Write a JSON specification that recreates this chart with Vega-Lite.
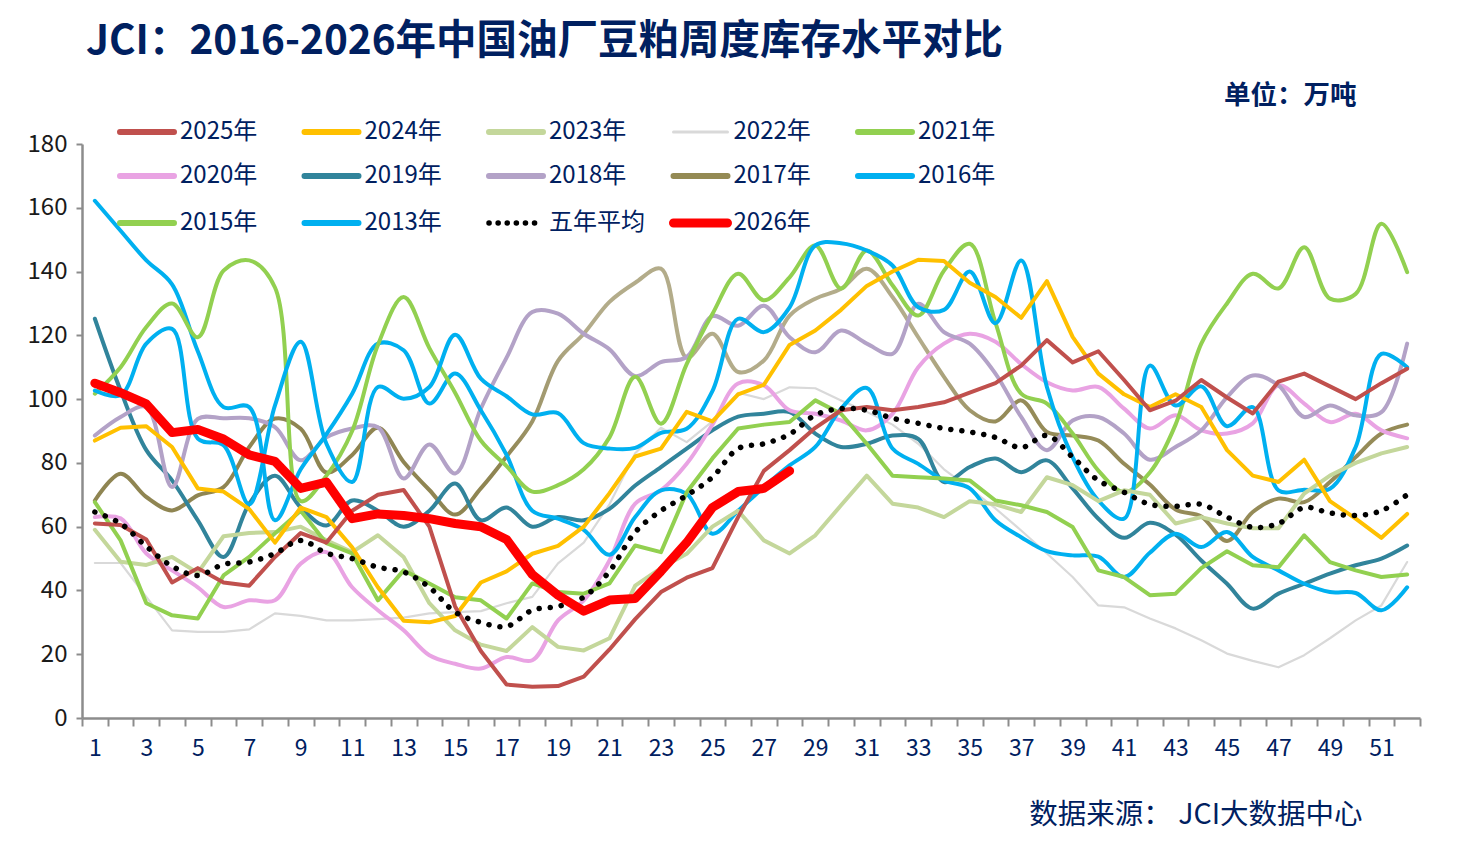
{
  "$schema": "https://vega.github.io/schema/vega-lite/v6.json",
  "width": 1338,
  "height": 574,
  "autosize": {"type": "none"},
  "padding": {"left": 82, "top": 144, "right": 38, "bottom": 137},
  "title": {
    "text": "JCI：2016-2026年中国油厂豆粕周度库存水平对比",
    "anchor": "start",
    "frame": "group",
    "fontSize": 40.5,
    "fontWeight": "bold",
    "color": "#002060",
    "dx": 4,
    "offset": 20
  },
  "datasets": {
    "inv": [
      {"s":"2022年","w":1,"v":48.6},{"s":"2022年","w":2,"v":48.6},{"s":"2022年","w":3,"v":38},{"s":"2022年","w":4,"v":27.5},{"s":"2022年","w":5,"v":27},{"s":"2022年","w":6,"v":27},{"s":"2022年","w":7,"v":27.8},{"s":"2022年","w":8,"v":32.8},{"s":"2022年","w":9,"v":32},{"s":"2022年","w":10,"v":30.6},{"s":"2022年","w":11,"v":30.6},{"s":"2022年","w":12,"v":31},{"s":"2022年","w":13,"v":31.5},{"s":"2022年","w":14,"v":32.8},{"s":"2022年","w":15,"v":33.2},{"s":"2022年","w":16,"v":33.5},{"s":"2022年","w":17,"v":36},{"s":"2022年","w":18,"v":38},{"s":"2022年","w":19,"v":48.5},{"s":"2022年","w":20,"v":55},{"s":"2022年","w":21,"v":67},{"s":"2022年","w":22,"v":83},{"s":"2022年","w":23,"v":91},{"s":"2022年","w":24,"v":86.5},{"s":"2022年","w":25,"v":93},{"s":"2022年","w":26,"v":102},{"s":"2022年","w":27,"v":100},{"s":"2022年","w":28,"v":103.7},{"s":"2022年","w":29,"v":103.4},{"s":"2022年","w":30,"v":99.6},{"s":"2022年","w":31,"v":96},{"s":"2022年","w":32,"v":92},{"s":"2022年","w":33,"v":86},{"s":"2022年","w":34,"v":78},{"s":"2022年","w":35,"v":72},{"s":"2022年","w":36,"v":65.7},{"s":"2022年","w":37,"v":58.8},{"s":"2022年","w":38,"v":51.6},{"s":"2022年","w":39,"v":44.2},{"s":"2022年","w":40,"v":35.3},{"s":"2022年","w":41,"v":34.7},{"s":"2022年","w":42,"v":31.2},{"s":"2022年","w":43,"v":28.1},{"s":"2022年","w":44,"v":24.4},{"s":"2022年","w":45,"v":20.2},{"s":"2022年","w":46,"v":17.9},{"s":"2022年","w":47,"v":15.9},{"s":"2022年","w":48,"v":19.7},{"s":"2022年","w":49,"v":25},{"s":"2022年","w":50,"v":30.6},{"s":"2022年","w":51,"v":35.3},{"s":"2022年","w":52,"v":48.9},
      {"s":"2017年","w":1,"v":68.2},{"s":"2017年","w":2,"v":76.6},{"s":"2017年","w":3,"v":69.3},{"s":"2017年","w":4,"v":65.1},{"s":"2017年","w":5,"v":69.8},{"s":"2017年","w":6,"v":72.4},{"s":"2017年","w":7,"v":85},{"s":"2017年","w":8,"v":93.9},{"s":"2017年","w":9,"v":90.7},{"s":"2017年","w":10,"v":77},{"s":"2017年","w":11,"v":82.5},{"s":"2017年","w":12,"v":91},{"s":"2017年","w":13,"v":80.3},{"s":"2017年","w":14,"v":71.5},{"s":"2017年","w":15,"v":63.8},{"s":"2017年","w":16,"v":72},{"s":"2017年","w":17,"v":82},{"s":"2017年","w":18,"v":93},{"s":"2017年","w":19,"v":112},{"s":"2017年","w":20,"v":120.5},{"s":"2017年","w":21,"v":130.5},{"s":"2017年","w":22,"v":136.5},{"s":"2017年","w":23,"v":140.9},{"s":"2017年","w":24,"v":113},{"s":"2017年","w":25,"v":120.5},{"s":"2017年","w":26,"v":108.5},{"s":"2017年","w":27,"v":112.1},{"s":"2017年","w":28,"v":126.2},{"s":"2017年","w":29,"v":131.5},{"s":"2017年","w":30,"v":134.6},{"s":"2017年","w":31,"v":140.9},{"s":"2017年","w":32,"v":132},{"s":"2017年","w":33,"v":119.4},{"s":"2017年","w":34,"v":107},{"s":"2017年","w":35,"v":96.5},{"s":"2017年","w":36,"v":93},{"s":"2017年","w":37,"v":99.6},{"s":"2017年","w":38,"v":89.7},{"s":"2017年","w":39,"v":88.6},{"s":"2017年","w":40,"v":87},{"s":"2017年","w":41,"v":79.7},{"s":"2017年","w":42,"v":73.2},{"s":"2017年","w":43,"v":65.4},{"s":"2017年","w":44,"v":63.2},{"s":"2017年","w":45,"v":55.5},{"s":"2017年","w":46,"v":64.6},{"s":"2017年","w":47,"v":68.8},{"s":"2017年","w":48,"v":67.7},{"s":"2017年","w":49,"v":74},{"s":"2017年","w":50,"v":81.8},{"s":"2017年","w":51,"v":89.2},{"s":"2017年","w":52,"v":92},
      {"s":"2019年","w":1,"v":125.2},{"s":"2019年","w":2,"v":102.7},{"s":"2019年","w":3,"v":84},{"s":"2019年","w":4,"v":74.5},{"s":"2019年","w":5,"v":62},{"s":"2019年","w":6,"v":50.5},{"s":"2019年","w":7,"v":67.2},{"s":"2019年","w":8,"v":76},{"s":"2019年","w":9,"v":66},{"s":"2019年","w":10,"v":60.4},{"s":"2019年","w":11,"v":68.2},{"s":"2019年","w":12,"v":65},{"s":"2019年","w":13,"v":60},{"s":"2019年","w":14,"v":65},{"s":"2019年","w":15,"v":73.5},{"s":"2019年","w":16,"v":62},{"s":"2019年","w":17,"v":66},{"s":"2019年","w":18,"v":60},{"s":"2019年","w":19,"v":63},{"s":"2019年","w":20,"v":62},{"s":"2019年","w":21,"v":65.6},{"s":"2019年","w":22,"v":72.9},{"s":"2019年","w":23,"v":78.7},{"s":"2019年","w":24,"v":84.5},{"s":"2019年","w":25,"v":90.2},{"s":"2019年","w":26,"v":94.5},{"s":"2019年","w":27,"v":95.4},{"s":"2019年","w":28,"v":95.9},{"s":"2019年","w":29,"v":89.2},{"s":"2019年","w":30,"v":85},{"s":"2019年","w":31,"v":86},{"s":"2019年","w":32,"v":88.6},{"s":"2019年","w":33,"v":87.5},{"s":"2019年","w":34,"v":74},{"s":"2019年","w":35,"v":78.7},{"s":"2019年","w":36,"v":81.4},{"s":"2019年","w":37,"v":77.1},{"s":"2019年","w":38,"v":80.8},{"s":"2019年","w":39,"v":72},{"s":"2019年","w":40,"v":62.5},{"s":"2019年","w":41,"v":56.5},{"s":"2019年","w":42,"v":61.2},{"s":"2019年","w":43,"v":57.5},{"s":"2019年","w":44,"v":49.4},{"s":"2019年","w":45,"v":42.1},{"s":"2019年","w":46,"v":34.3},{"s":"2019年","w":47,"v":39},{"s":"2019年","w":48,"v":42.1},{"s":"2019年","w":49,"v":45.3},{"s":"2019年","w":50,"v":47.9},{"s":"2019年","w":51,"v":50},{"s":"2019年","w":52,"v":54.1},
      {"s":"2020年","w":1,"v":63},{"s":"2020年","w":2,"v":62.6},{"s":"2020年","w":3,"v":51.6},{"s":"2020年","w":4,"v":46.3},{"s":"2020年","w":5,"v":41},{"s":"2020年","w":6,"v":34.8},{"s":"2020年","w":7,"v":36.9},{"s":"2020年","w":8,"v":36.9},{"s":"2020年","w":9,"v":48.4},{"s":"2020年","w":10,"v":52},{"s":"2020年","w":11,"v":41},{"s":"2020年","w":12,"v":33.8},{"s":"2020年","w":13,"v":27.5},{"s":"2020年","w":14,"v":19.7},{"s":"2020年","w":15,"v":17},{"s":"2020年","w":16,"v":15.5},{"s":"2020年","w":17,"v":19.1},{"s":"2020年","w":18,"v":18.1},{"s":"2020年","w":19,"v":30.6},{"s":"2020年","w":20,"v":36.9},{"s":"2020年","w":21,"v":49.4},{"s":"2020年","w":22,"v":67.2},{"s":"2020年","w":23,"v":71.4},{"s":"2020年","w":24,"v":79.7},{"s":"2020年","w":25,"v":92},{"s":"2020年","w":26,"v":104.9},{"s":"2020年","w":27,"v":104.3},{"s":"2020年","w":28,"v":96.5},{"s":"2020年","w":29,"v":95.4},{"s":"2020年","w":30,"v":93.3},{"s":"2020年","w":31,"v":90.2},{"s":"2020年","w":32,"v":95.4},{"s":"2020年","w":33,"v":110},{"s":"2020年","w":34,"v":117.4},{"s":"2020年","w":35,"v":120.5},{"s":"2020年","w":36,"v":118},{"s":"2020年","w":37,"v":111},{"s":"2020年","w":38,"v":105.3},{"s":"2020年","w":39,"v":102.7},{"s":"2020年","w":40,"v":103.8},{"s":"2020年","w":41,"v":97},{"s":"2020年","w":42,"v":90.8},{"s":"2020年","w":43,"v":94.9},{"s":"2020年","w":44,"v":90.2},{"s":"2020年","w":45,"v":89.2},{"s":"2020年","w":46,"v":92.4},{"s":"2020年","w":47,"v":104.3},{"s":"2020年","w":48,"v":98.6},{"s":"2020年","w":49,"v":92.8},{"s":"2020年","w":50,"v":95.4},{"s":"2020年","w":51,"v":90.2},{"s":"2020年","w":52,"v":87.7},
      {"s":"2018年","w":1,"v":88.6},{"s":"2018年","w":2,"v":94.4},{"s":"2018年","w":3,"v":97.5},{"s":"2018年","w":4,"v":72.4},{"s":"2018年","w":5,"v":93.8},{"s":"2018年","w":6,"v":94},{"s":"2018年","w":7,"v":94},{"s":"2018年","w":8,"v":91.2},{"s":"2018年","w":9,"v":80.8},{"s":"2018年","w":10,"v":88},{"s":"2018年","w":11,"v":90.8},{"s":"2018年","w":12,"v":91.2},{"s":"2018年","w":13,"v":75.1},{"s":"2018年","w":14,"v":85.8},{"s":"2018年","w":15,"v":76.7},{"s":"2018年","w":16,"v":97},{"s":"2018年","w":17,"v":113},{"s":"2018年","w":18,"v":127.3},{"s":"2018年","w":19,"v":126.8},{"s":"2018年","w":20,"v":120.5},{"s":"2018年","w":21,"v":115.6},{"s":"2018年","w":22,"v":107.2},{"s":"2018年","w":23,"v":111.6},{"s":"2018年","w":24,"v":113.2},{"s":"2018年","w":25,"v":126},{"s":"2018年","w":26,"v":123},{"s":"2018年","w":27,"v":129.3},{"s":"2018年","w":28,"v":119.4},{"s":"2018年","w":29,"v":114.7},{"s":"2018年","w":30,"v":121.5},{"s":"2018年","w":31,"v":117.4},{"s":"2018年","w":32,"v":114.2},{"s":"2018年","w":33,"v":129.9},{"s":"2018年","w":34,"v":121},{"s":"2018年","w":35,"v":117.4},{"s":"2018年","w":36,"v":108},{"s":"2018年","w":37,"v":94.4},{"s":"2018年","w":38,"v":84},{"s":"2018年","w":39,"v":93.3},{"s":"2018年","w":40,"v":94.4},{"s":"2018年","w":41,"v":89.2},{"s":"2018年","w":42,"v":81},{"s":"2018年","w":43,"v":85},{"s":"2018年","w":44,"v":90.2},{"s":"2018年","w":45,"v":100.6},{"s":"2018年","w":46,"v":107.4},{"s":"2018年","w":47,"v":104.3},{"s":"2018年","w":48,"v":94.4},{"s":"2018年","w":49,"v":98},{"s":"2018年","w":50,"v":94.9},{"s":"2018年","w":51,"v":95.9},{"s":"2018年","w":52,"v":117.4},
      {"s":"2016年","w":1,"v":162.2},{"s":"2016年","w":2,"v":152.8},{"s":"2016年","w":3,"v":143.5},{"s":"2016年","w":4,"v":136},{"s":"2016年","w":5,"v":115},{"s":"2016年","w":6,"v":97.5},{"s":"2016年","w":7,"v":97.5},{"s":"2016年","w":8,"v":62},{"s":"2016年","w":9,"v":78},{"s":"2016年","w":10,"v":89},{"s":"2016年","w":11,"v":101.7},{"s":"2016年","w":12,"v":117.4},{"s":"2016年","w":13,"v":115.3},{"s":"2016年","w":14,"v":98.6},{"s":"2016年","w":15,"v":108},{"s":"2016年","w":16,"v":96.5},{"s":"2016年","w":17,"v":82.5},{"s":"2016年","w":18,"v":65},{"s":"2016年","w":19,"v":62.5},{"s":"2016年","w":20,"v":59},{"s":"2016年","w":21,"v":51.2},{"s":"2016年","w":22,"v":63},{"s":"2016年","w":23,"v":71.4},{"s":"2016年","w":24,"v":70.3},{"s":"2016年","w":25,"v":57.8},{"s":"2016年","w":26,"v":65},{"s":"2016年","w":27,"v":72.4},{"s":"2016年","w":28,"v":79.2},{"s":"2016年","w":29,"v":85},{"s":"2016年","w":30,"v":97},{"s":"2016年","w":31,"v":103.5},{"s":"2016年","w":32,"v":84.5},{"s":"2016年","w":33,"v":79.7},{"s":"2016年","w":34,"v":74.5},{"s":"2016年","w":35,"v":72},{"s":"2016年","w":36,"v":62},{"s":"2016年","w":37,"v":56.7},{"s":"2016年","w":38,"v":52.3},{"s":"2016年","w":39,"v":51},{"s":"2016年","w":40,"v":50.6},{"s":"2016年","w":41,"v":44.2},{"s":"2016年","w":42,"v":51.8},{"s":"2016年","w":43,"v":57.8},{"s":"2016年","w":44,"v":53.6},{"s":"2016年","w":45,"v":58.3},{"s":"2016年","w":46,"v":50.5},{"s":"2016年","w":47,"v":46.3},{"s":"2016年","w":48,"v":42.1},{"s":"2016年","w":49,"v":39.5},{"s":"2016年","w":50,"v":39.2},{"s":"2016年","w":51,"v":33.8},{"s":"2016年","w":52,"v":41},
      {"s":"2015年","w":1,"v":101.7},{"s":"2015年","w":2,"v":110},{"s":"2015年","w":3,"v":122.6},{"s":"2015年","w":4,"v":130},{"s":"2015年","w":5,"v":119.4},{"s":"2015年","w":6,"v":140.3},{"s":"2015年","w":7,"v":143.5},{"s":"2015年","w":8,"v":135},{"s":"2015年","w":9,"v":68},{"s":"2015年","w":10,"v":76},{"s":"2015年","w":11,"v":90},{"s":"2015年","w":12,"v":117},{"s":"2015年","w":13,"v":132},{"s":"2015年","w":14,"v":116},{"s":"2015年","w":15,"v":102},{"s":"2015年","w":16,"v":87},{"s":"2015年","w":17,"v":79},{"s":"2015年","w":18,"v":71},{"s":"2015年","w":19,"v":73},{"s":"2015年","w":20,"v":78},{"s":"2015年","w":21,"v":88},{"s":"2015年","w":22,"v":107},{"s":"2015年","w":23,"v":92.3},{"s":"2015年","w":24,"v":111},{"s":"2015年","w":25,"v":126.7},{"s":"2015年","w":26,"v":139.3},{"s":"2015年","w":27,"v":131},{"s":"2015年","w":28,"v":138.2},{"s":"2015年","w":29,"v":148.2},{"s":"2015年","w":30,"v":134.7},{"s":"2015年","w":31,"v":146.6},{"s":"2015年","w":32,"v":135.7},{"s":"2015年","w":33,"v":126.2},{"s":"2015年","w":34,"v":140.3},{"s":"2015年","w":35,"v":148.7},{"s":"2015年","w":36,"v":124},{"s":"2015年","w":37,"v":101.7},{"s":"2015年","w":38,"v":98.6},{"s":"2015年","w":39,"v":89.2},{"s":"2015年","w":40,"v":77.6},{"s":"2015年","w":41,"v":70.8},{"s":"2015年","w":42,"v":77},{"s":"2015年","w":43,"v":92},{"s":"2015年","w":44,"v":117.4},{"s":"2015年","w":45,"v":130},{"s":"2015年","w":46,"v":139.3},{"s":"2015年","w":47,"v":134.7},{"s":"2015年","w":48,"v":147.6},{"s":"2015年","w":49,"v":131.5},{"s":"2015年","w":50,"v":133},{"s":"2015年","w":51,"v":155},{"s":"2015年","w":52,"v":139.8},
      {"s":"2013年","w":1,"v":102.7},{"s":"2013年","w":2,"v":101.2},{"s":"2013年","w":3,"v":117.4},{"s":"2013年","w":4,"v":122},{"s":"2013年","w":5,"v":87.6},{"s":"2013年","w":6,"v":85.5},{"s":"2013年","w":7,"v":67},{"s":"2013年","w":8,"v":98},{"s":"2013年","w":9,"v":118},{"s":"2013年","w":10,"v":86},{"s":"2013年","w":11,"v":74},{"s":"2013年","w":12,"v":103.8},{"s":"2013年","w":13,"v":100.1},{"s":"2013年","w":14,"v":103.8},{"s":"2013年","w":15,"v":120.2},{"s":"2013年","w":16,"v":106.4},{"s":"2013年","w":17,"v":100.9},{"s":"2013年","w":18,"v":95.2},{"s":"2013年","w":19,"v":95.6},{"s":"2013年","w":20,"v":86.2},{"s":"2013年","w":21,"v":84.5},{"s":"2013年","w":22,"v":84.7},{"s":"2013年","w":23,"v":89.4},{"s":"2013年","w":24,"v":90.7},{"s":"2013年","w":25,"v":102.5},{"s":"2013年","w":26,"v":125.2},{"s":"2013年","w":27,"v":121},{"s":"2013年","w":28,"v":128.8},{"s":"2013年","w":29,"v":148.2},{"s":"2013年","w":30,"v":148.9},{"s":"2013年","w":31,"v":146.6},{"s":"2013年","w":32,"v":141.9},{"s":"2013年","w":33,"v":128.8},{"s":"2013年","w":34,"v":128},{"s":"2013年","w":35,"v":140},{"s":"2013年","w":36,"v":123.8},{"s":"2013年","w":37,"v":143.5},{"s":"2013年","w":38,"v":103.8},{"s":"2013年","w":39,"v":81.8},{"s":"2013年","w":40,"v":68.2},{"s":"2013年","w":41,"v":62.5},{"s":"2013年","w":42,"v":110.5},{"s":"2013年","w":43,"v":98},{"s":"2013年","w":44,"v":104},{"s":"2013年","w":45,"v":91.5},{"s":"2013年","w":46,"v":97.5},{"s":"2013年","w":47,"v":71.4},{"s":"2013年","w":48,"v":71.6},{"s":"2013年","w":49,"v":71.9},{"s":"2013年","w":50,"v":85},{"s":"2013年","w":51,"v":114.2},{"s":"2013年","w":52,"v":110},
      {"s":"2023年","w":1,"v":59},{"s":"2023年","w":2,"v":49},{"s":"2023年","w":3,"v":48},{"s":"2023年","w":4,"v":50.5},{"s":"2023年","w":5,"v":45.5},{"s":"2023年","w":6,"v":57},{"s":"2023年","w":7,"v":58},{"s":"2023年","w":8,"v":58.3},{"s":"2023年","w":9,"v":60},{"s":"2023年","w":10,"v":55.7},{"s":"2023年","w":11,"v":52},{"s":"2023年","w":12,"v":57.3},{"s":"2023年","w":13,"v":50.5},{"s":"2023年","w":14,"v":36},{"s":"2023年","w":15,"v":27.5},{"s":"2023年","w":16,"v":23},{"s":"2023年","w":17,"v":21},{"s":"2023年","w":18,"v":28.5},{"s":"2023年","w":19,"v":22.3},{"s":"2023年","w":20,"v":21.2},{"s":"2023年","w":21,"v":25},{"s":"2023年","w":22,"v":41.5},{"s":"2023年","w":23,"v":47},{"s":"2023年","w":24,"v":51.5},{"s":"2023年","w":25,"v":60},{"s":"2023年","w":26,"v":65},{"s":"2023年","w":27,"v":55.7},{"s":"2023年","w":28,"v":51.6},{"s":"2023年","w":29,"v":57.3},{"s":"2023年","w":30,"v":66.7},{"s":"2023年","w":31,"v":76},{"s":"2023年","w":32,"v":67.2},{"s":"2023年","w":33,"v":66},{"s":"2023年","w":34,"v":63},{"s":"2023年","w":35,"v":68},{"s":"2023年","w":36,"v":67},{"s":"2023年","w":37,"v":64.6},{"s":"2023年","w":38,"v":75.5},{"s":"2023年","w":39,"v":73},{"s":"2023年","w":40,"v":68},{"s":"2023年","w":41,"v":71.4},{"s":"2023年","w":42,"v":70},{"s":"2023年","w":43,"v":61},{"s":"2023年","w":44,"v":63},{"s":"2023年","w":45,"v":61},{"s":"2023年","w":46,"v":59.5},{"s":"2023年","w":47,"v":59.5},{"s":"2023年","w":48,"v":70.4},{"s":"2023年","w":49,"v":76},{"s":"2023年","w":50,"v":80},{"s":"2023年","w":51,"v":83},{"s":"2023年","w":52,"v":85},
      {"s":"2021年","w":1,"v":67.7},{"s":"2021年","w":2,"v":55.7},{"s":"2021年","w":3,"v":36},{"s":"2021年","w":4,"v":32.2},{"s":"2021年","w":5,"v":31.2},{"s":"2021年","w":6,"v":44.7},{"s":"2021年","w":7,"v":50.5},{"s":"2021年","w":8,"v":57.9},{"s":"2021年","w":9,"v":65},{"s":"2021年","w":10,"v":54.8},{"s":"2021年","w":11,"v":51.6},{"s":"2021年","w":12,"v":36.9},{"s":"2021年","w":13,"v":46.3},{"s":"2021年","w":14,"v":42.2},{"s":"2021年","w":15,"v":37.9},{"s":"2021年","w":16,"v":36.9},{"s":"2021年","w":17,"v":31.2},{"s":"2021年","w":18,"v":42.2},{"s":"2021年","w":19,"v":39.5},{"s":"2021年","w":20,"v":39},{"s":"2021年","w":21,"v":42.2},{"s":"2021年","w":22,"v":54.1},{"s":"2021年","w":23,"v":52},{"s":"2021年","w":24,"v":70.8},{"s":"2021年","w":25,"v":81.4},{"s":"2021年","w":26,"v":90.8},{"s":"2021年","w":27,"v":92},{"s":"2021年","w":28,"v":92.8},{"s":"2021年","w":29,"v":99.6},{"s":"2021年","w":30,"v":95.4},{"s":"2021年","w":31,"v":86},{"s":"2021年","w":32,"v":76},{"s":"2021年","w":33,"v":75.5},{"s":"2021年","w":34,"v":75.1},{"s":"2021年","w":35,"v":74.5},{"s":"2021年","w":36,"v":68.2},{"s":"2021年","w":37,"v":66.7},{"s":"2021年","w":38,"v":64.6},{"s":"2021年","w":39,"v":59.9},{"s":"2021年","w":40,"v":46.3},{"s":"2021年","w":41,"v":44.2},{"s":"2021年","w":42,"v":38.5},{"s":"2021年","w":43,"v":39},{"s":"2021年","w":44,"v":47},{"s":"2021年","w":45,"v":52.3},{"s":"2021年","w":46,"v":47.9},{"s":"2021年","w":47,"v":47.3},{"s":"2021年","w":48,"v":57.3},{"s":"2021年","w":49,"v":48.9},{"s":"2021年","w":50,"v":46.3},{"s":"2021年","w":51,"v":44.2},{"s":"2021年","w":52,"v":45},
      {"s":"2024年","w":1,"v":87},{"s":"2024年","w":2,"v":91},{"s":"2024年","w":3,"v":91.5},{"s":"2024年","w":4,"v":85},{"s":"2024年","w":5,"v":72},{"s":"2024年","w":6,"v":71},{"s":"2024年","w":7,"v":65.5},{"s":"2024年","w":8,"v":55},{"s":"2024年","w":9,"v":66},{"s":"2024年","w":10,"v":63},{"s":"2024年","w":11,"v":53.5},{"s":"2024年","w":12,"v":41},{"s":"2024年","w":13,"v":30.5},{"s":"2024年","w":14,"v":30},{"s":"2024年","w":15,"v":32},{"s":"2024年","w":16,"v":42.5},{"s":"2024年","w":17,"v":46},{"s":"2024年","w":18,"v":51.5},{"s":"2024年","w":19,"v":54},{"s":"2024年","w":20,"v":60},{"s":"2024年","w":21,"v":70.5},{"s":"2024年","w":22,"v":82},{"s":"2024年","w":23,"v":84.5},{"s":"2024年","w":24,"v":96},{"s":"2024年","w":25,"v":93},{"s":"2024年","w":26,"v":101.5},{"s":"2024年","w":27,"v":104.5},{"s":"2024年","w":28,"v":117},{"s":"2024年","w":29,"v":121.5},{"s":"2024年","w":30,"v":128},{"s":"2024年","w":31,"v":135.5},{"s":"2024年","w":32,"v":140},{"s":"2024年","w":33,"v":143.7},{"s":"2024年","w":34,"v":143.3},{"s":"2024年","w":35,"v":136.5},{"s":"2024年","w":36,"v":132},{"s":"2024年","w":37,"v":125.5},{"s":"2024年","w":38,"v":137},{"s":"2024年","w":39,"v":119.5},{"s":"2024年","w":40,"v":108},{"s":"2024年","w":41,"v":101.5},{"s":"2024年","w":42,"v":97.5},{"s":"2024年","w":43,"v":101.5},{"s":"2024年","w":44,"v":97.5},{"s":"2024年","w":45,"v":84},{"s":"2024年","w":46,"v":76},{"s":"2024年","w":47,"v":74},{"s":"2024年","w":48,"v":81},{"s":"2024年","w":49,"v":68},{"s":"2024年","w":50,"v":62.5},{"s":"2024年","w":51,"v":56.5},{"s":"2024年","w":52,"v":64},
      {"s":"2025年","w":1,"v":61},{"s":"2025年","w":2,"v":60.5},{"s":"2025年","w":3,"v":56},{"s":"2025年","w":4,"v":42.5},{"s":"2025年","w":5,"v":47},{"s":"2025年","w":6,"v":42.5},{"s":"2025年","w":7,"v":41.5},{"s":"2025年","w":8,"v":50.5},{"s":"2025年","w":9,"v":58},{"s":"2025年","w":10,"v":55},{"s":"2025年","w":11,"v":65},{"s":"2025年","w":12,"v":70},{"s":"2025年","w":13,"v":71.5},{"s":"2025年","w":14,"v":60},{"s":"2025年","w":15,"v":35},{"s":"2025年","w":16,"v":21},{"s":"2025年","w":17,"v":10.5},{"s":"2025年","w":18,"v":9.8},{"s":"2025年","w":19,"v":10},{"s":"2025年","w":20,"v":13},{"s":"2025年","w":21,"v":21.5},{"s":"2025年","w":22,"v":31},{"s":"2025年","w":23,"v":39.5},{"s":"2025年","w":24,"v":44},{"s":"2025年","w":25,"v":47},{"s":"2025年","w":26,"v":63},{"s":"2025年","w":27,"v":77.5},{"s":"2025年","w":28,"v":84},{"s":"2025年","w":29,"v":91},{"s":"2025年","w":30,"v":96.5},{"s":"2025年","w":31,"v":97.5},{"s":"2025年","w":32,"v":96.5},{"s":"2025年","w":33,"v":97.5},{"s":"2025年","w":34,"v":99},{"s":"2025年","w":35,"v":102},{"s":"2025年","w":36,"v":105},{"s":"2025年","w":37,"v":110.5},{"s":"2025年","w":38,"v":118.5},{"s":"2025年","w":39,"v":111.5},{"s":"2025年","w":40,"v":115},{"s":"2025年","w":41,"v":106},{"s":"2025年","w":42,"v":96.5},{"s":"2025年","w":43,"v":99.5},{"s":"2025年","w":44,"v":106},{"s":"2025年","w":45,"v":100.5},{"s":"2025年","w":46,"v":95.5},{"s":"2025年","w":47,"v":105.5},{"s":"2025年","w":48,"v":108},{"s":"2025年","w":49,"v":104},{"s":"2025年","w":50,"v":100},{"s":"2025年","w":51,"v":105},{"s":"2025年","w":52,"v":109.5},
      {"s":"五年平均","w":1,"v":64.6},{"s":"五年平均","w":2,"v":61},{"s":"五年平均","w":3,"v":53.8},{"s":"五年平均","w":4,"v":47.6},{"s":"五年平均","w":5,"v":44.7},{"s":"五年平均","w":6,"v":48.2},{"s":"五年平均","w":7,"v":48.9},{"s":"五年平均","w":8,"v":51.6},{"s":"五年平均","w":9,"v":55.7},{"s":"五年平均","w":10,"v":51.7},{"s":"五年平均","w":11,"v":50},{"s":"五年平均","w":12,"v":47.3},{"s":"五年平均","w":13,"v":45.8},{"s":"五年平均","w":14,"v":41},{"s":"五年平均","w":15,"v":33.2},{"s":"五年平均","w":16,"v":30},{"s":"五年平均","w":17,"v":28.7},{"s":"五年平均","w":18,"v":33.8},{"s":"五年平均","w":19,"v":35},{"s":"五年平均","w":20,"v":37.9},{"s":"五年平均","w":21,"v":46},{"s":"五年平均","w":22,"v":58.3},{"s":"五年平均","w":23,"v":65},{"s":"五年平均","w":24,"v":69.8},{"s":"五年平均","w":25,"v":75.5},{"s":"五年平均","w":26,"v":84.5},{"s":"五年平均","w":27,"v":86},{"s":"五年平均","w":28,"v":89},{"s":"五年平均","w":29,"v":95},{"s":"五年平均","w":30,"v":97},{"s":"五年平均","w":31,"v":96.5},{"s":"五年平均","w":32,"v":94},{"s":"五年平均","w":33,"v":92.4},{"s":"五年平均","w":34,"v":90.8},{"s":"五年平均","w":35,"v":89.7},{"s":"五年平均","w":36,"v":88},{"s":"五年平均","w":37,"v":84.8},{"s":"五年平均","w":38,"v":88.6},{"s":"五年平均","w":39,"v":81.8},{"s":"五年平均","w":40,"v":74.5},{"s":"五年平均","w":41,"v":70.8},{"s":"五年平均","w":42,"v":67},{"s":"五年平均","w":43,"v":66.4},{"s":"五年平均","w":44,"v":67},{"s":"五年平均","w":45,"v":63},{"s":"五年平均","w":46,"v":59.8},{"s":"五年平均","w":47,"v":61},{"s":"五年平均","w":48,"v":66},{"s":"五年平均","w":49,"v":64.3},{"s":"五年平均","w":50,"v":63.5},{"s":"五年平均","w":51,"v":65},{"s":"五年平均","w":52,"v":70},
      {"s":"2026年","w":1,"v":105},{"s":"2026年","w":2,"v":102},{"s":"2026年","w":3,"v":98.5},{"s":"2026年","w":4,"v":89.5},{"s":"2026年","w":5,"v":90.5},{"s":"2026年","w":6,"v":87.5},{"s":"2026年","w":7,"v":82.5},{"s":"2026年","w":8,"v":80.5},{"s":"2026年","w":9,"v":72},{"s":"2026年","w":10,"v":74},{"s":"2026年","w":11,"v":62.5},{"s":"2026年","w":12,"v":64},{"s":"2026年","w":13,"v":63.5},{"s":"2026年","w":14,"v":62.5},{"s":"2026年","w":15,"v":61},{"s":"2026年","w":16,"v":60},{"s":"2026年","w":17,"v":56},{"s":"2026年","w":18,"v":45},{"s":"2026年","w":19,"v":38.5},{"s":"2026年","w":20,"v":33.5},{"s":"2026年","w":21,"v":37},{"s":"2026年","w":22,"v":37.5},{"s":"2026年","w":23,"v":46},{"s":"2026年","w":24,"v":55},{"s":"2026年","w":25,"v":66},{"s":"2026年","w":26,"v":71},{"s":"2026年","w":27,"v":72},{"s":"2026年","w":28,"v":77.5}
    ]
  },
  "data": {"name": "inv"},
  "encoding": {
    "x": {
      "field": "w",
      "type": "ordinal",
      "scale": {"type": "band", "paddingInner": 0, "paddingOuter": 0},
      "title": "数据来源： JCI大数据中心",
      "axis": {
        "tickBand": "extent",
        "labelExpr": "datum.value % 2 === 1 ? datum.label : ''",
        "labelAngle": 0,
        "labelOverlap": false,
        "labelFontSize": 23,
        "labelColor": "#002060",
        "labelPadding": 11,
        "tickSize": 8,
        "tickWidth": 2,
        "tickColor": "#8c8c8c",
        "domainColor": "#8c8c8c",
        "domainWidth": 2.5,
        "grid": false,
        "titleX": 1280,
        "titleY": 96,
        "titleAlign": "right",
        "titleBaseline": "middle",
        "titleFontSize": 28.5,
        "titleFontWeight": "normal",
        "titleColor": "#002060"
      }
    },
    "y": {
      "field": "v",
      "type": "quantitative",
      "scale": {"domain": [0, 180], "nice": false},
      "title": "单位：万吨",
      "axis": {
        "values": [0, 20, 40, 60, 80, 100, 120, 140, 160, 180],
        "labelFontSize": 24,
        "labelColor": "#1a1a1a",
        "labelPadding": 9,
        "tickSize": 6,
        "tickWidth": 2,
        "tickColor": "#8c8c8c",
        "domainColor": "#8c8c8c",
        "domainWidth": 2.5,
        "grid": false,
        "titleAngle": 0,
        "titleX": 1274,
        "titleY": -49,
        "titleAlign": "right",
        "titleBaseline": "middle",
        "titleFontSize": 26.5,
        "titleFontWeight": "bold",
        "titleColor": "#002060"
      }
    },
    "color": {
      "field": "s",
      "type": "nominal",
      "scale": {
        "domain": ["2025年","2024年","2023年","2022年","2021年","2020年","2019年","2018年","2017年","2016年","2015年","2013年","五年平均","2026年"],
        "range": ["#C0504D","#FFC000","#C4D79B","#D9D9D9","#92D050","#E9A3E3","#31849B","#B3A2C7","#948A54","#00B0F0","#92D050","#00B0F0","#000000","#FF0000"]
      },
      "legend": {
        "title": null,
        "orient": "none",
        "legendX": 53,
        "legendY": -27,
        "direction": "horizontal",
        "columns": 5,
        "gridAlign": "all",
        "symbolType": "stroke",
        "symbolSize": 2916,
        "symbolStrokeWidth": 6,
        "labelFontSize": 24,
        "labelColor": "#002060",
        "labelOffset": 21,
        "labelLimit": 0,
        "columnPadding": 10.5,
        "rowPadding": 11,
        "padding": 0,
        "encode": {
          "symbols": {
            "update": {
              "strokeWidth": {"signal": "datum.value === '2026年' ? 9 : datum.value === '2022年' ? 3 : datum.value === '五年平均' ? 5.5 : 6"},
              "strokeDash": {"signal": "datum.value === '五年平均' ? [0.1, 9] : [1, 0]"},
              "strokeCap": {"value": "round"}
            }
          }
        }
      }
    }
  },
  "layer": [
    {
      "transform": [{"filter": {"field": "s", "oneOf": ["2022年"]}}],
      "mark": {"type": "line", "strokeWidth": 2.2, "strokeCap": "round", "strokeJoin": "round"}
    },
    {
      "transform": [{"filter": {"field": "s", "oneOf": ["2017年"]}}],
      "mark": {"type": "line", "interpolate": "catmull-rom", "strokeWidth": 4, "strokeCap": "round", "strokeJoin": "round"},
      "encoding": {
        "color": {
          "value": {
            "gradient": "linear",
            "x1": 0, "y1": 0, "x2": 1, "y2": 0,
            "stops": [
              {"offset": 0, "color": "#8F8552"},
              {"offset": 0.31, "color": "#8F8552"},
              {"offset": 0.37, "color": "#B3AC8A"},
              {"offset": 0.63, "color": "#B3AC8A"},
              {"offset": 0.69, "color": "#958B58"},
              {"offset": 1, "color": "#958B58"}
            ]
          }
        }
      }
    },
    {
      "transform": [{"filter": {"field": "s", "oneOf": ["2019年","2020年","2018年","2016年","2015年","2013年"]}}],
      "mark": {"type": "line", "interpolate": "catmull-rom", "strokeWidth": 4, "strokeCap": "round", "strokeJoin": "round"}
    },
    {
      "transform": [{"filter": {"field": "s", "oneOf": ["2023年","2021年","2024年","2025年"]}}],
      "mark": {"type": "line", "strokeWidth": 4, "strokeCap": "round", "strokeJoin": "round"}
    },
    {
      "transform": [{"filter": {"field": "s", "oneOf": ["五年平均"]}}],
      "mark": {"type": "line", "interpolate": "catmull-rom", "strokeWidth": 5.5, "strokeDash": [0.1, 11], "strokeCap": "round"}
    },
    {
      "transform": [{"filter": {"field": "s", "oneOf": ["2026年"]}}],
      "mark": {"type": "line", "strokeWidth": 9, "strokeCap": "round", "strokeJoin": "round"}
    }
  ],
  "config": {
    "font": "Noto Sans CJK SC",
    "view": {"stroke": null},
    "background": "#ffffff"
  }
}
